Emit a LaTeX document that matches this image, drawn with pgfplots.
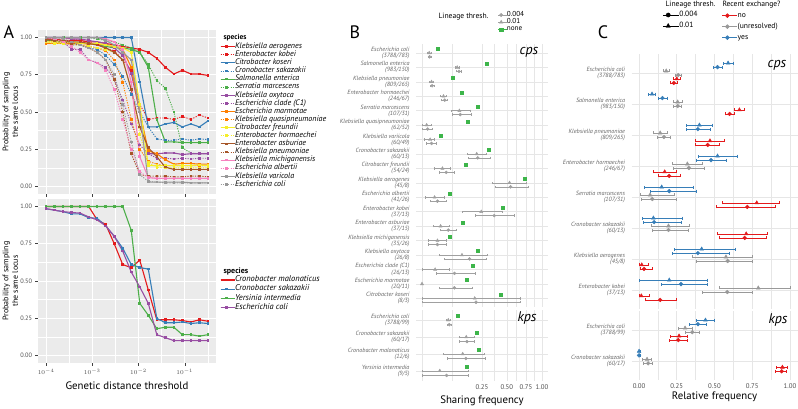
\documentclass[border=0pt]{standalone}
\usepackage{fontspec}
\setmainfont{PT Sans}
\usepackage{pgfplots}
\usepackage{pgfplotstable}
\pgfplotsset{compat=1.18}

\definecolor{sred}{HTML}{E41A1C}
\definecolor{sblue}{HTML}{377EB8}
\definecolor{sgreen}{HTML}{4DAF4A}
\definecolor{spurple}{HTML}{984EA3}
\definecolor{sorange}{HTML}{FF7F00}
\definecolor{syellow}{HTML}{F5EE2A}
\definecolor{sbrown}{HTML}{A65628}
\definecolor{spink}{HTML}{F781BF}
\definecolor{sgrey}{HTML}{999999}
\definecolor{panelbg}{HTML}{EBEBEB}
\definecolor{tickgrey}{HTML}{4D4D4D}
\definecolor{bgreen}{HTML}{3DB54A}
\definecolor{bgrey}{HTML}{A0A0A0}
\definecolor{gridc}{HTML}{E6E6E6}

\newcommand{\fs}[2]{\fontsize{#1}{#2}\selectfont}

% panel A, cps: probability of sampling the same locus
\pgfplotstableread{
x s1 s2 s3 s4 s5 s6 s7 s8 s9 s10 s11 s12 s13 s14 s15 s16 s17 s18
1.000e-4 0.99 1.00 1.00 0.985 0.98 1.00 1.00 1.00 0.96 0.97 0.97 0.97 0.99 0.98 1.00 1.00 1.00 1.00
1.528e-4 0.99 1.00 1.00 0.975 0.98 1.00 1.00 0.99 0.96 0.97 0.97 0.96 0.98 0.98 1.00 0.99 1.00 1.00
2.336e-4 0.98 1.00 1.00 0.96 0.97 1.00 1.00 0.97 0.96 0.96 0.97 0.96 0.98 0.97 1.00 0.97 1.00 0.99
3.570e-4 0.98 0.99 1.00 0.95 0.97 1.00 0.99 0.92 0.96 0.96 0.97 0.95 0.97 0.96 1.00 0.94 1.00 0.97
5.456e-4 0.98 0.98 1.00 0.95 0.96 1.00 0.99 0.92 0.96 0.95 0.96 0.95 0.97 0.95 1.00 0.90 1.00 0.95
8.338e-4 0.97 0.97 1.00 0.93 0.96 1.00 0.98 0.85 0.955 0.94 0.96 0.94 0.96 0.93 1.00 0.85 1.00 0.93
1.274e-3 0.97 0.95 1.00 0.92 0.95 0.99 0.97 0.83 0.955 0.93 0.96 0.93 0.95 0.90 1.00 0.83 1.00 0.90
1.948e-3 0.96 0.93 1.00 0.88 0.94 0.98 0.96 0.80 0.95 0.91 0.95 0.92 0.93 0.85 0.99 0.78 0.98 0.85
2.976e-3 0.95 0.91 1.00 0.82 0.93 0.97 0.93 0.72 0.94 0.85 0.94 0.90 0.90 0.72 0.97 0.65 0.95 0.75
4.548e-3 0.94 0.85 1.00 0.74 0.93 0.95 0.88 0.58 0.92 0.70 0.93 0.85 0.85 0.50 0.92 0.45 0.90 0.55
6.952e-3 0.93 0.78 1.00 0.62 0.92 0.93 0.76 0.42 0.80 0.45 0.90 0.65 0.65 0.22 0.70 0.25 0.85 0.30
1.062e-2 0.92 0.55 0.70 0.50 0.90 0.90 0.50 0.28 0.50 0.25 0.55 0.35 0.40 0.08 0.20 0.10 0.50 0.08
1.624e-2 0.90 0.45 0.40 0.40 0.80 0.82 0.22 0.22 0.24 0.17 0.14 0.16 0.26 0.07 0.06 0.06 0.03 0.035
2.482e-2 0.86 0.46 0.40 0.32 0.45 0.71 0.22 0.19 0.22 0.15 0.14 0.13 0.20 0.07 0.055 0.055 0.03 0.03
3.793e-2 0.80 0.46 0.42 0.31 0.30 0.66 0.225 0.19 0.18 0.14 0.14 0.125 0.13 0.07 0.055 0.055 0.03 0.025
5.796e-2 0.755 0.45 0.43 0.31 0.30 0.50 0.225 0.185 0.15 0.14 0.14 0.125 0.115 0.065 0.055 0.055 0.03 0.025
8.859e-2 0.78 0.47 0.40 0.32 0.295 0.26 0.215 0.19 0.155 0.14 0.14 0.125 0.115 0.065 0.055 0.055 0.03 0.025
0.1354 0.755 0.45 0.42 0.31 0.295 0.225 0.22 0.185 0.155 0.14 0.14 0.125 0.115 0.07 0.055 0.055 0.025 0.025
0.2069 0.755 0.48 0.40 0.32 0.295 0.22 0.22 0.19 0.15 0.14 0.145 0.125 0.115 0.07 0.055 0.055 0.025 0.025
0.3162 0.745 0.46 0.44 0.315 0.295 0.22 0.22 0.19 0.15 0.14 0.14 0.125 0.115 0.065 0.055 0.055 0.025 0.025
}\Atop

% panel A, kps
\pgfplotstableread{
x mal sak yer col
1.000e-4 1.00 0.985 1.00 0.985
1.528e-4 1.00 0.975 1.00 0.975
2.336e-4 1.00 0.965 1.00 0.965
3.570e-4 1.00 0.95 1.00 0.96
5.456e-4 1.00 0.95 1.00 0.955
8.338e-4 1.00 0.925 1.00 0.93
1.274e-3 0.91 0.92 1.00 0.91
1.948e-3 0.88 0.87 1.00 0.87
2.976e-3 0.75 0.80 1.00 0.80
4.548e-3 0.61 0.72 1.00 0.70
6.952e-3 0.59 0.61 0.84 0.56
1.062e-2 0.64 0.59 0.35 0.46
1.624e-2 0.44 0.58 0.27 0.35
2.482e-2 0.24 0.25 0.18 0.14
3.793e-2 0.24 0.22 0.19 0.12
5.796e-2 0.24 0.22 0.19 0.10
8.859e-2 0.235 0.225 0.14 0.10
0.1354 0.225 0.215 0.14 0.10
0.2069 0.24 0.22 0.13 0.10
0.3162 0.23 0.215 0.14 0.10
}\Akps

% panel B: sharing frequency (sq = none, t = 0.01, c = 0.004)
\pgfplotstableread{
row sq t tlo thi c clo chi
1 0.018 0.0036 0.002 0.0055 0.004 0.0025 0.006
2 0.29 0.086 0.075 0.098 0.095 0.083 0.108
3 0.065 0.0063 0.004 0.009 0.0071 0.0045 0.010
4 0.109 0.032 0.024 0.041 0.036 0.027 0.046
5 0.218 0.097 0.059 0.161 0.102 0.063 0.168
6 0.146 0.0015 0.0 0.006 0.0022 0.0 0.0075
7 0.025 0.0046 0.0004 0.011 0.0063 0.0012 0.014
8 0.31 0.208 0.14 0.29 0.216 0.15 0.32
9 0.13 0.029 0.011 0.054 0.041 0.021 0.073
10 0.736 0.532 0.342 0.75 0.544 0.368 0.79
11 0.054 0.011 0.0006 0.033 0.0166 0.0043 0.04
12 0.452 0.244 0.115 0.452 0.363 0.195 0.592
13 0.115 0.024 0.0086 0.05 0.048 0.024 0.081
14 0.054 0.0166 0.0027 0.041 0.0166 0.0027 0.041
15 0.213 0.111 0.02 0.295 0.157 0.033 0.29
16 0.18 0.012 0.0 0.052 0.073 0.0145 0.2
17 0.14 0.0 0.0 0.0 0.073 0.02 0.173
18 0.433 0.193 0.0 0.667 0.2025 0.0 0.667
}\Bcps
\pgfplotstableread{
row sq t tlo thi c clo chi
1 0.09 0.048 0.042 0.054 0.0516 0.046 0.058
2 0.21 0.136 0.094 0.19 0.14 0.097 0.19
3 0.224 0.115 0.0316 0.27 0.134 0.046 0.28
4 0.14 0.022 0.0 0.146 0.042 0.0 0.146
}\Bkps

% panel C: relative frequency (t = 0.01, c = 0.004)
\pgfplotstableread{
row t tlo thi c clo chi
1 0.59 0.555 0.625 0.52 0.49 0.55
2 0.086 0.06 0.11 0.155 0.125 0.185
3 0.40 0.315 0.485 0.39 0.31 0.47
4 0.52 0.39 0.65 0.477 0.377 0.577
5 0.15 0.035 0.36 0.20 0.073 0.377
6 0.095 0.02 0.285 0.10 0.027 0.283
7 0.415 0.236 0.64 0.39 0.22 0.60
8 0.20 0.0 0.455 0.278 0.15 0.455
}\Cyescps
\pgfplotstableread{
row t tlo thi c clo chi
1 0.18 0.16 0.20 0.26 0.24 0.28
2 0.256 0.225 0.285 0.256 0.23 0.28
3 0.14 0.095 0.185 0.165 0.12 0.21
4 0.32 0.22 0.42 0.33 0.23 0.43
5 0.073 0.007 0.234 0.088 0.013 0.25
6 0.195 0.084 0.33 0.195 0.09 0.325
7 0.576 0.35 0.75 0.587 0.38 0.75
8 0.79 0.53 1.0 0.585 0.42 0.75
}\Cunrcps
\pgfplotstableread{
row t tlo thi c clo chi
1 0.25 0.225 0.275 0.23 0.205 0.255
2 0.665 0.63 0.70 0.60 0.57 0.63
3 0.47 0.375 0.565 0.455 0.375 0.535
4 0.17 0.095 0.245 0.20 0.125 0.275
5 0.78 0.55 0.93 0.717 0.51 0.90
6 0.71 0.52 0.85 0.70 0.53 0.84
7 0.018 0.0 0.06 0.033 0.005 0.09
8 0.015 0.0 0.07 0.14 0.04 0.25
}\Cnocps
\pgfplotstableread{
row t tlo thi c clo chi
1 0.44 0.382 0.498 0.39 0.335 0.445
2 0.0 0.0 0.008 0.0 0.0 0.008
}\Cyeskps
\pgfplotstableread{
row t tlo thi c clo chi
1 0.305 0.26 0.35 0.353 0.308 0.398
2 0.053 0.023 0.083 0.06 0.03 0.09
}\Cunrkps
\pgfplotstableread{
row t tlo thi c clo chi
1 0.265 0.208 0.322 0.26 0.203 0.317
2 0.95 0.91 0.98 0.945 0.905 0.975
}\Cnokps

\pgfplotsset{
  ggA/.style={
    scale only axis, width=178pt, height=164pt,
    ymin=-0.05, ymax=1.05,
    axis background/.style={fill=panelbg},
    axis line style={draw=none},
    grid=both,
    major grid style={white, line width=0.8pt},
    minor grid style={white, line width=0.4pt},
    ytick={0,0.25,0.5,0.75,1},
    yticklabels={0.00,0.25,0.50,0.75,1.00},
    minor ytick={0.125,0.375,0.625,0.875},
    tick align=outside, major tick length=2.5pt, minor tick length=0pt,
    xtick pos=bottom, ytick pos=left,
    tick style={color=black!75, line width=0.5pt},
    tick label style={font=\fs{6.3}{7}, text=tickgrey},
    ylabel={Probability of sampling\\the same locus},
    ylabel style={align=center, font=\fs{8}{9.5}, at={(axis description cs:-0.093,0.5)}, anchor=south},
    legend cell align=left,
  },
  aSol/.style={color=#1, line width=1.1pt, mark=square*, mark size=0.75pt},
  aDot/.style={color=#1, line width=0.9pt, dash pattern=on 1.2pt off 1.3pt, mark=square*, mark size=0.85pt, mark options={solid}},
  minim/.style={
    scale only axis, y dir=reverse,
    xmin=-0.05, xmax=1.05,
    axis line style={draw=none},
    major tick length=0pt, minor tick length=0pt,
    grid=both,
    major grid style={draw=gridc, line width=0.6pt},
    minor grid style={draw=gridc, line width=0.35pt},
    tick label style={font=\fs{6.8}{8}, text=tickgrey},
    yticklabel style={align=right, font=\itshape\fs{6.1}{6.1}, text=black!60, xshift=-3pt},
  },
}

\begin{document}
\begin{tikzpicture}
\useasboundingbox (0pt,0pt) rectangle (798pt,-408pt);

% ---------------- A, top
\begin{axis}[ggA, xmode=log, xmin=6.683e-5, xmax=0.4732,
  xtick={1e-4,1e-3,1e-2,1e-1}, minor xtick={3.162e-4,3.162e-3,3.162e-2,0.3162},
  at={(38pt,-194pt)}, anchor=south west, xticklabels={},
  legend image code/.code={\draw[mark repeat=2, mark phase=2, #1] plot coordinates {(0pt,0pt) (6pt,0pt) (12pt,0pt)}; \path (0pt,0pt) -- (14pt,0pt);},
  legend style={draw=none, fill=none, inner sep=0pt, outer sep=0pt, row sep=0pt,
    at={(0,1)}, anchor=north west, xshift=182pt, yshift=-12.6pt,
    font=\itshape\fs{8}{8}, nodes={inner sep=0pt, text height=5.8pt, text depth=2.3pt}}]
\addplot[aSol=sred] table[x=x,y=s1]{\Atop}; \addlegendentry{Klebsiella aerogenes}
\addplot[aDot=sred] table[x=x,y=s2]{\Atop}; \addlegendentry{Enterobacter kobei}
\addplot[aSol=sblue] table[x=x,y=s3]{\Atop}; \addlegendentry{Citrobacter koseri}
\addplot[aDot=sblue] table[x=x,y=s4]{\Atop}; \addlegendentry{Cronobacter sakazakii}
\addplot[aSol=sgreen] table[x=x,y=s5]{\Atop}; \addlegendentry{Salmonella enterica}
\addplot[aDot=sgreen] table[x=x,y=s6]{\Atop}; \addlegendentry{Serratia marcescens}
\addplot[aSol=spurple] table[x=x,y=s7]{\Atop}; \addlegendentry{Klebsiella oxytoca}
\addplot[aDot=spurple] table[x=x,y=s8]{\Atop}; \addlegendentry{Escherichia clade (C1)}
\addplot[aSol=sorange] table[x=x,y=s9]{\Atop}; \addlegendentry{Escherichia marmotae}
\addplot[aDot=sorange] table[x=x,y=s10]{\Atop}; \addlegendentry{Klebsiella quasipneumoniae}
\addplot[aSol=syellow] table[x=x,y=s11]{\Atop}; \addlegendentry{Citrobacter freundii}
\addplot[aDot=syellow] table[x=x,y=s12]{\Atop}; \addlegendentry{Enterobacter hormaechei}
\addplot[aSol=sbrown] table[x=x,y=s13]{\Atop}; \addlegendentry{Enterobacter asburiae}
\addplot[aDot=sbrown] table[x=x,y=s14]{\Atop}; \addlegendentry{Klebsiella pneumoniae}
\addplot[aSol=spink] table[x=x,y=s15]{\Atop}; \addlegendentry{Klebsiella michiganensis}
\addplot[aDot=spink] table[x=x,y=s16]{\Atop}; \addlegendentry{Escherichia albertii}
\addplot[aSol=sgrey] table[x=x,y=s17]{\Atop}; \addlegendentry{Klebsiella varicola}
\addplot[aDot=sgrey] table[x=x,y=s18]{\Atop}; \addlegendentry{Escherichia coli}
\end{axis}

% ---------------- A, bottom
\begin{axis}[ggA, xmode=log, xmin=6.683e-5, xmax=0.4732,
  xtick={1e-4,1e-3,1e-2,1e-1}, minor xtick={3.162e-4,3.162e-3,3.162e-2,0.3162},
  at={(38pt,-363pt)}, anchor=south west,
  xticklabels={$10^{-4}$,$10^{-3}$,$10^{-2}$,$10^{-1}$},
  xlabel={Genetic distance threshold}, xlabel style={font=\fs{10.8}{12}},
  legend image code/.code={\draw[mark repeat=2, mark phase=2, #1] plot coordinates {(0pt,0pt) (6pt,0pt) (12pt,0pt)}; \path (0pt,0pt) -- (14pt,0pt);},
  legend style={draw=none, fill=none, inner sep=0pt, outer sep=0pt, row sep=0pt,
    at={(0,1)}, anchor=north west, xshift=182pt, yshift=-76.4pt,
    font=\itshape\fs{8.4}{9}, nodes={inner sep=0pt, text height=6.4pt, text depth=2.7pt}}]
\addplot[aSol=sred] table[x=x,y=mal]{\Akps}; \addlegendentry{Cronobacter malonaticus}
\addplot[aSol=sblue] table[x=x,y=sak]{\Akps}; \addlegendentry{Cronobacter sakazakii}
\addplot[aSol=sgreen] table[x=x,y=yer]{\Akps}; \addlegendentry{Yersinia intermedia}
\addplot[aSol=spurple] table[x=x,y=col]{\Akps}; \addlegendentry{Escherichia coli}
\end{axis}

% ---------------- B, cps
\begin{axis}[minim, at={(416pt,-307pt)}, anchor=south west, width=132pt, height=262.7pt,
  ymin=0.4, ymax=18.6, ytick={1,...,18},
  yticklabels={{Escherichia coli\\(3788/783)},{Salmonella enterica\\(983/150)},{Klebsiella pneumoniae\\(809/265)},{Enterobacter hormaechei\\(246/67)},{Serratia marcescens\\(107/31)},{Klebsiella quasipneumoniae\\(62/52)},{Klebsiella variicola\\(60/49)},{Cronobacter sakazakii\\(60/13)},{Citrobacter freundii\\(54/24)},{Klebsiella aerogenes\\(45/8)},{Escherichia albertii\\(41/26)},{Enterobacter kobei\\(37/13)},{Enterobacter asburiae\\(37/15)},{Klebsiella michiganensis\\(35/26)},{Klebsiella oxytoca\\(26/8)},{Escherichia clade (C1)\\(26/13)},{Escherichia marmotae\\(20/11)},{Citrobacter koseri\\(8/3)}},
  xtick={0.5,0.70711,0.86603,1}, xticklabels={}, minor xtick={0,0.25,0.60355,0.78657,0.93301},
  legend style={draw=none, fill=none, inner sep=0pt, outer sep=0pt, row sep=0pt,
    at={(axis description cs:0.6212,1.1252)}, anchor=north west,
    font=\fs{7.2}{8}, nodes={inner sep=0pt, text height=4.9pt, text depth=2.3pt}},
  legend cell align=left,
  legend image code/.code={\draw[#1] plot coordinates {(3pt,0pt)}; \path (0pt,0pt) -- (8.5pt,0pt);}]
\addlegendimage{only marks, mark=*, bgrey, mark size=1.7pt}\addlegendentry{0.004}
\addlegendimage{only marks, mark=triangle*, bgrey, mark size=2pt}\addlegendentry{0.01}
\addlegendimage{only marks, mark=square*, bgreen, mark size=1.6pt}\addlegendentry{none}
\addplot[forget plot, only marks, mark=*, color=bgrey, mark size=1.5pt,
  error bars/.cd, x dir=both, x explicit, error bar style={draw=bgrey, line width=0.5pt}, error mark=|, error mark options={draw=bgrey, mark size=1.2pt, line width=0.5pt}]
  table[x expr={sqrt(\thisrow{c})}, y expr={\thisrow{row}+0.27}, x error plus expr={sqrt(\thisrow{chi})-sqrt(\thisrow{c})}, x error minus expr={sqrt(\thisrow{c})-sqrt(\thisrow{clo})}]{\Bcps};
\addplot[forget plot, only marks, mark=triangle*, color=bgrey, mark size=1.8pt,
  error bars/.cd, x dir=both, x explicit, error bar style={draw=bgrey, line width=0.5pt}, error mark=|, error mark options={draw=bgrey, mark size=1.2pt, line width=0.5pt}]
  table[x expr={sqrt(\thisrow{t})}, y expr={\thisrow{row}}, x error plus expr={sqrt(\thisrow{thi})-sqrt(\thisrow{t})}, x error minus expr={sqrt(\thisrow{t})-sqrt(\thisrow{tlo})}]{\Bcps};
\addplot[forget plot, only marks, mark=square*, color=bgreen, mark size=1.5pt] table[x expr={sqrt(\thisrow{sq})}, y expr={\thisrow{row}-0.27}]{\Bcps};
\end{axis}

% ---------------- B, kps
\begin{axis}[minim, at={(416pt,-381pt)}, anchor=south west, width=132pt, height=71pt,
  ymin=0.4, ymax=4.6, ytick={1,...,4},
  yticklabels={{Escherichia coli\\(3788/99)},{Cronobacter sakazakii\\(60/17)},{Cronobacter malonaticus\\(12/6)},{Yersinia intermedia\\(9/5)}},
  xtick={0.5,0.70711,0.86603,1}, xticklabels={0.25,0.50,0.75,1.00}, minor xtick={0,0.25,0.60355,0.78657,0.93301},
  xlabel={Sharing frequency}, xlabel style={font=\fs{10.8}{12}, yshift=1pt}]
\addplot[forget plot, only marks, mark=*, color=bgrey, mark size=1.5pt,
  error bars/.cd, x dir=both, x explicit, error bar style={draw=bgrey, line width=0.5pt}, error mark=|, error mark options={draw=bgrey, mark size=1.2pt, line width=0.5pt}]
  table[x expr={sqrt(\thisrow{c})}, y expr={\thisrow{row}+0.27}, x error plus expr={sqrt(\thisrow{chi})-sqrt(\thisrow{c})}, x error minus expr={sqrt(\thisrow{c})-sqrt(\thisrow{clo})}]{\Bkps};
\addplot[forget plot, only marks, mark=triangle*, color=bgrey, mark size=1.8pt,
  error bars/.cd, x dir=both, x explicit, error bar style={draw=bgrey, line width=0.5pt}, error mark=|, error mark options={draw=bgrey, mark size=1.2pt, line width=0.5pt}]
  table[x expr={sqrt(\thisrow{t})}, y expr={\thisrow{row}}, x error plus expr={sqrt(\thisrow{thi})-sqrt(\thisrow{t})}, x error minus expr={sqrt(\thisrow{t})-sqrt(\thisrow{tlo})}]{\Bkps};
\addplot[forget plot, only marks, mark=square*, color=bgreen, mark size=1.5pt] table[x expr={sqrt(\thisrow{sq})}, y expr={\thisrow{row}-0.27}]{\Bkps};
\end{axis}

% ---------------- C, cps
\begin{axis}[minim, at={(631.5pt,-308.6pt)}, anchor=south west, width=166pt, height=254.2pt,
  ymin=0.4, ymax=8.6, ytick={1,...,8},
  yticklabels={{Escherichia coli\\(3788/783)},{Salmonella enterica\\(983/150)},{Klebsiella pneumoniae\\(809/265)},{Enterobacter hormaechei\\(246/67)},{Serratia marcescens\\(107/31)},{Cronobacter sakazakii\\(60/13)},{Klebsiella aerogenes\\(45/8)},{Enterobacter kobei\\(37/13)}},
  xtick={0,0.25,0.5,0.75,1}, xticklabels={}, minor xtick={0.125,0.375,0.625,0.875},
  legend style={draw=none, fill=none, inner sep=0pt, outer sep=0pt, row sep=0pt,
    at={(0,1)}, anchor=north west, xshift=90.5pt, yshift=44.2pt,
    font=\fs{7.6}{8}, nodes={inner sep=0pt, text height=7.3pt, text depth=3.7pt}},
  legend cell align=left,
  legend image code/.code={\draw[#1] (0pt,0pt) -- (10pt,0pt); \draw[#1] plot coordinates {(5pt,0pt)}; \path (0pt,0pt) -- (15pt,0pt);}]
\addlegendimage{sred, mark=*, mark size=1.9pt, line width=0.7pt}\addlegendentry{no}
\addlegendimage{sgrey, mark=*, mark size=1.9pt, line width=0.7pt}\addlegendentry{(unresolved)}
\addlegendimage{sblue, mark=*, mark size=1.9pt, line width=0.7pt}\addlegendentry{yes}
\addplot[forget plot, only marks, mark=triangle*, color=sblue, mark size=2.2pt,
  error bars/.cd, x dir=both, x explicit, error bar style={draw=sblue, line width=0.6pt}, error mark=|, error mark options={draw=sblue, mark size=1.5pt, line width=0.6pt}]
  table[x=t, y expr={\thisrow{row}-0.32}, x error plus expr={\thisrow{thi}-\thisrow{t}}, x error minus expr={\thisrow{t}-\thisrow{tlo}}]{\Cyescps};
\addplot[forget plot, only marks, mark=*, color=sblue, mark size=1.9pt,
  error bars/.cd, x dir=both, x explicit, error bar style={draw=sblue, line width=0.6pt}, error mark=|, error mark options={draw=sblue, mark size=1.5pt, line width=0.6pt}]
  table[x=c, y expr={\thisrow{row}-0.19}, x error plus expr={\thisrow{chi}-\thisrow{c}}, x error minus expr={\thisrow{c}-\thisrow{clo}}]{\Cyescps};
\addplot[forget plot, only marks, mark=triangle*, color=sgrey, mark size=2.2pt,
  error bars/.cd, x dir=both, x explicit, error bar style={draw=sgrey, line width=0.6pt}, error mark=|, error mark options={draw=sgrey, mark size=1.5pt, line width=0.6pt}]
  table[x=t, y expr={\thisrow{row}-0.065}, x error plus expr={\thisrow{thi}-\thisrow{t}}, x error minus expr={\thisrow{t}-\thisrow{tlo}}]{\Cunrcps};
\addplot[forget plot, only marks, mark=*, color=sgrey, mark size=1.9pt,
  error bars/.cd, x dir=both, x explicit, error bar style={draw=sgrey, line width=0.6pt}, error mark=|, error mark options={draw=sgrey, mark size=1.5pt, line width=0.6pt}]
  table[x=c, y expr={\thisrow{row}+0.065}, x error plus expr={\thisrow{chi}-\thisrow{c}}, x error minus expr={\thisrow{c}-\thisrow{clo}}]{\Cunrcps};
\addplot[forget plot, only marks, mark=triangle*, color=sred, mark size=2.2pt,
  error bars/.cd, x dir=both, x explicit, error bar style={draw=sred, line width=0.6pt}, error mark=|, error mark options={draw=sred, mark size=1.5pt, line width=0.6pt}]
  table[x=t, y expr={\thisrow{row}+0.19}, x error plus expr={\thisrow{thi}-\thisrow{t}}, x error minus expr={\thisrow{t}-\thisrow{tlo}}]{\Cnocps};
\addplot[forget plot, only marks, mark=*, color=sred, mark size=1.9pt,
  error bars/.cd, x dir=both, x explicit, error bar style={draw=sred, line width=0.6pt}, error mark=|, error mark options={draw=sred, mark size=1.5pt, line width=0.6pt}]
  table[x=c, y expr={\thisrow{row}+0.32}, x error plus expr={\thisrow{chi}-\thisrow{c}}, x error minus expr={\thisrow{c}-\thisrow{clo}}]{\Cnocps};
\end{axis}

% ---------------- C, kps
\begin{axis}[minim, at={(631.5pt,-380pt)}, anchor=south west, width=166pt, height=68.6pt,
  ymin=0.4, ymax=2.6, ytick={1,2},
  yticklabels={{Escherichia coli\\(3788/99)},{Cronobacter sakazakii\\(60/17)}},
  xtick={0,0.25,0.5,0.75,1}, xticklabels={0.00,0.25,0.50,0.75,1.00}, minor xtick={0.125,0.375,0.625,0.875},
  xlabel={Relative frequency}, xlabel style={font=\fs{10.8}{12}, yshift=3pt},
  legend style={draw=none, fill=none, inner sep=0pt, outer sep=0pt, row sep=0pt,
    at={(0,1)}, anchor=north west, xshift=31.5pt, yshift=301.9pt,
    font=\fs{7.6}{8}, nodes={inner sep=0pt, text height=7.3pt, text depth=3.7pt}},
  legend cell align=left,
  legend image code/.code={\draw[#1] plot coordinates {(5pt,0pt)}; \path (0pt,0pt) -- (16pt,0pt);}]
\addlegendimage{only marks, mark=*, black, mark size=2.1pt}\addlegendentry{0.004}
\addlegendimage{only marks, mark=triangle*, black, mark size=2.5pt}\addlegendentry{0.01}
\addplot[forget plot, only marks, mark=triangle*, color=sblue, mark size=2.2pt,
  error bars/.cd, x dir=both, x explicit, error bar style={draw=sblue, line width=0.6pt}, error mark=|, error mark options={draw=sblue, mark size=1.5pt, line width=0.6pt}]
  table[x=t, y expr={\thisrow{row}-0.32}, x error plus expr={\thisrow{thi}-\thisrow{t}}, x error minus expr={\thisrow{t}-\thisrow{tlo}}]{\Cyeskps};
\addplot[forget plot, only marks, mark=*, color=sblue, mark size=1.9pt,
  error bars/.cd, x dir=both, x explicit, error bar style={draw=sblue, line width=0.6pt}, error mark=|, error mark options={draw=sblue, mark size=1.5pt, line width=0.6pt}]
  table[x=c, y expr={\thisrow{row}-0.19}, x error plus expr={\thisrow{chi}-\thisrow{c}}, x error minus expr={\thisrow{c}-\thisrow{clo}}]{\Cyeskps};
\addplot[forget plot, only marks, mark=triangle*, color=sgrey, mark size=2.2pt,
  error bars/.cd, x dir=both, x explicit, error bar style={draw=sgrey, line width=0.6pt}, error mark=|, error mark options={draw=sgrey, mark size=1.5pt, line width=0.6pt}]
  table[x=t, y expr={\thisrow{row}-0.065}, x error plus expr={\thisrow{thi}-\thisrow{t}}, x error minus expr={\thisrow{t}-\thisrow{tlo}}]{\Cunrkps};
\addplot[forget plot, only marks, mark=*, color=sgrey, mark size=1.9pt,
  error bars/.cd, x dir=both, x explicit, error bar style={draw=sgrey, line width=0.6pt}, error mark=|, error mark options={draw=sgrey, mark size=1.5pt, line width=0.6pt}]
  table[x=c, y expr={\thisrow{row}+0.065}, x error plus expr={\thisrow{chi}-\thisrow{c}}, x error minus expr={\thisrow{c}-\thisrow{clo}}]{\Cunrkps};
\addplot[forget plot, only marks, mark=triangle*, color=sred, mark size=2.2pt,
  error bars/.cd, x dir=both, x explicit, error bar style={draw=sred, line width=0.6pt}, error mark=|, error mark options={draw=sred, mark size=1.5pt, line width=0.6pt}]
  table[x=t, y expr={\thisrow{row}+0.19}, x error plus expr={\thisrow{thi}-\thisrow{t}}, x error minus expr={\thisrow{t}-\thisrow{tlo}}]{\Cnokps};
\addplot[forget plot, only marks, mark=*, color=sred, mark size=1.9pt,
  error bars/.cd, x dir=both, x explicit, error bar style={draw=sred, line width=0.6pt}, error mark=|, error mark options={draw=sred, mark size=1.5pt, line width=0.6pt}]
  table[x=c, y expr={\thisrow{row}+0.32}, x error plus expr={\thisrow{chi}-\thisrow{c}}, x error minus expr={\thisrow{c}-\thisrow{clo}}]{\Cnokps};
\end{axis}

% titles, panel letters, facet labels
\node[anchor=west, font=\bfseries\fs{7.4}{8}] at (220pt,-37.7pt) {species};
\node[anchor=west, font=\bfseries\fs{8}{9}] at (220pt,-271pt) {species};
\node[anchor=west, font=\fs{7.6}{8}] at (435pt,-16.7pt) {Lineage thresh.};
\node[anchor=west, font=\fs{7.6}{8}] at (662pt,-4.8pt) {Lineage thresh.};
\node[anchor=west, font=\fs{7.6}{8}] at (719pt,-4.8pt) {Recent exchange?};
\node[font=\fs{18}{18}] at (9pt,-32pt) {A};
\node[font=\fs{18}{18}] at (355pt,-32pt) {B};
\node[font=\fs{18}{18}] at (603pt,-32pt) {C};
\node[font=\itshape\fs{14}{14}] at (529pt,-52pt) {cps};
\node[font=\itshape\fs{14}{14}] at (527pt,-318pt) {kps};
\node[font=\itshape\fs{14}{14}] at (777pt,-65pt) {cps};
\node[font=\itshape\fs{14}{14}] at (778pt,-320pt) {kps};
\end{tikzpicture}
\end{document}
